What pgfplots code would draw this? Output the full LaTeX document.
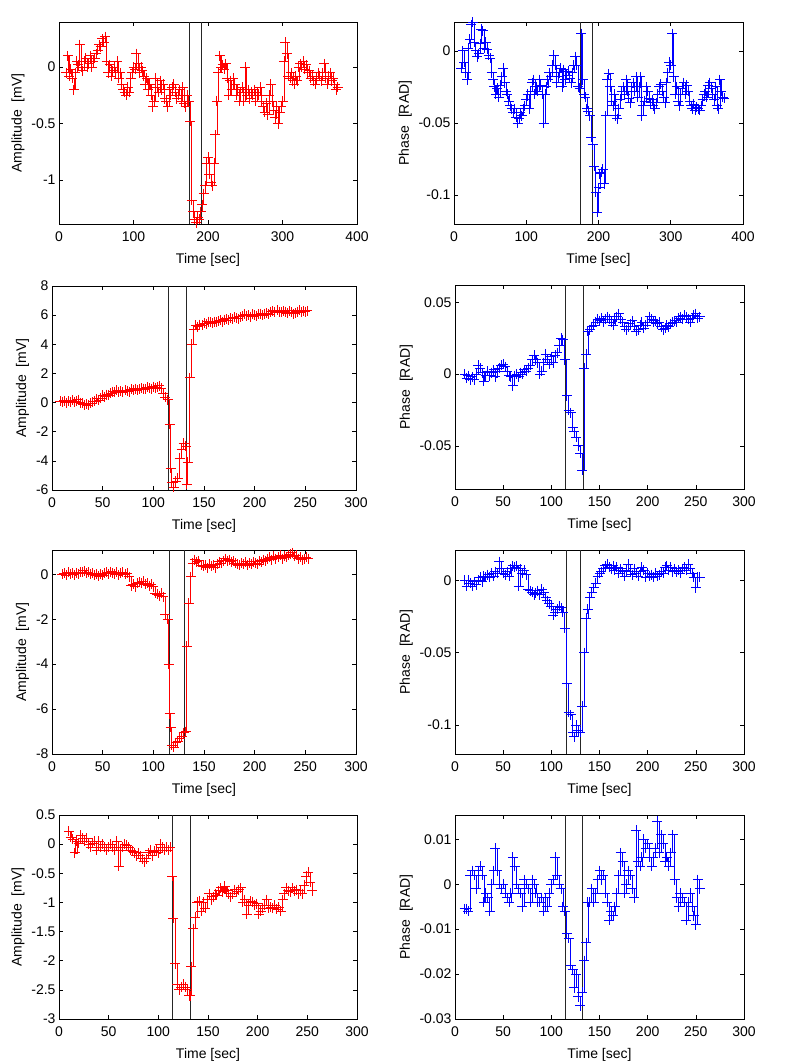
\documentclass[border=0pt]{standalone}
\usepackage{pgfplots}
\usepackage{pgfplotstable}
\pgfplotsset{compat=1.18}
\usepackage{fontspec}
\setmainfont{Liberation Sans}

\pgfplotstableread{
x y
10 -0.05
12 0.10
14 -0.08
16 -0.02
18 -0.10
20 -0.20
22 -0.05
24 0.05
26 0.02
28 0.20
30 0.00
32 -0.03
34 0.05
36 0.08
38 0.00
40 0.03
42 0.10
44 0.00
46 0.05
48 0.08
50 0.12
52 0.15
54 0.20
56 0.18
58 0.25
60 0.22
62 0.27
64 0.05
66 -0.05
68 0.02
70 -0.08
72 -0.03
74 0.00
76 -0.05
78 0.05
80 -0.10
82 -0.05
84 -0.15
86 -0.20
88 -0.22
90 -0.25
92 -0.18
94 -0.22
96 -0.10
98 -0.05
100 0.00
102 -0.02
104 0.12
106 0.03
108 -0.05
110 0.00
112 -0.03
114 -0.08
116 -0.15
118 -0.10
120 -0.20
122 -0.15
124 -0.25
126 -0.35
128 -0.30
130 -0.10
132 -0.18
134 -0.22
136 -0.12
138 -0.20
140 -0.15
142 -0.28
144 -0.30
146 -0.35
148 -0.20
150 -0.25
152 -0.18
154 -0.15
156 -0.22
158 -0.28
160 -0.25
162 -0.20
164 -0.30
166 -0.18
168 -0.32
170 -0.35
172 -0.25
174 -0.30
176 -0.48
178 -1.18
180 -1.28
182 -1.35
184 -1.38
186 -1.33
188 -1.35
190 -1.28
192 -1.22
194 -1.12
196 -1.05
198 -0.85
200 -0.80
202 -0.95
204 -1.02
206 -1.05
208 -0.85
210 -0.60
212 -0.30
214 -0.05
216 0.10
218 0.00
220 0.02
222 -0.02
224 0.03
226 -0.10
228 -0.25
230 -0.12
232 -0.20
234 -0.10
236 -0.15
238 -0.25
240 -0.20
242 -0.30
244 -0.22
246 -0.18
248 -0.30
250 0.00
252 -0.25
254 -0.20
256 -0.28
258 -0.22
260 -0.25
262 -0.20
264 -0.30
266 -0.22
268 -0.25
270 -0.18
272 -0.30
274 -0.35
276 -0.40
278 -0.32
280 -0.42
282 -0.25
284 -0.15
286 -0.30
288 -0.38
290 -0.45
292 -0.35
294 -0.50
296 -0.40
298 -0.35
300 -0.30
302 0.05
304 0.22
306 0.12
308 -0.08
310 -0.10
312 -0.05
314 -0.12
316 -0.15
318 -0.08
320 -0.12
322 0.00
324 0.03
326 0.00
328 0.05
330 -0.02
332 0.02
334 -0.05
336 -0.03
338 -0.10
340 -0.08
342 -0.12
344 -0.15
346 -0.10
348 -0.05
350 -0.08
352 -0.12
354 -0.05
356 0.03
358 -0.10
360 -0.15
362 -0.08
364 -0.05
366 -0.12
368 -0.10
370 -0.15
372 -0.20
374 -0.18
}\dataA

\pgfplotstableread{
x y
10 -0.012
12 0.000
14 -0.008
16 -0.015
18 -0.020
20 0.002
22 0.008
24 0.018
26 0.020
28 0.006
30 0.000
32 -0.004
34 -0.002
36 0.005
38 0.015
40 0.014
42 0.002
44 0.006
46 0.001
48 -0.003
50 -0.005
52 -0.015
54 -0.020
56 -0.025
58 -0.030
60 -0.026
62 -0.032
64 -0.024
66 -0.018
68 -0.012
70 -0.022
72 -0.028
74 -0.030
76 -0.035
78 -0.038
80 -0.040
82 -0.043
84 -0.040
86 -0.046
88 -0.050
90 -0.047
92 -0.043
94 -0.045
96 -0.040
98 -0.038
100 -0.034
102 -0.030
104 -0.040
106 -0.028
108 -0.022
110 -0.020
112 -0.030
114 -0.025
116 -0.028
118 -0.020
120 -0.024
122 -0.030
124 -0.050
126 -0.030
128 -0.025
130 -0.020
132 -0.015
134 -0.018
136 -0.010
138 -0.003
140 -0.010
142 -0.022
144 -0.018
146 -0.015
148 -0.012
150 -0.025
152 -0.013
154 -0.020
156 -0.017
158 -0.014
160 -0.019
162 -0.022
164 -0.015
166 -0.010
168 -0.004
170 -0.010
172 -0.025
174 -0.026
176 0.012
178 -0.020
180 -0.030
182 -0.032
184 -0.040
186 -0.042
188 -0.045
190 -0.060
192 -0.065
194 -0.080
196 -0.098
198 -0.112
200 -0.095
202 -0.085
204 -0.084
206 -0.082
208 -0.092
210 -0.045
212 -0.020
214 -0.016
216 -0.025
218 -0.035
220 -0.038
222 -0.030
224 -0.045
226 -0.047
228 -0.040
230 -0.034
232 -0.028
234 -0.025
236 -0.030
238 -0.020
240 -0.028
242 -0.033
244 -0.036
246 -0.025
248 -0.022
250 -0.028
252 -0.018
254 -0.032
256 -0.025
258 -0.018
260 -0.045
262 -0.038
264 -0.035
266 -0.025
268 -0.028
270 -0.033
272 -0.036
274 -0.034
276 -0.038
278 -0.040
280 -0.036
282 -0.030
284 -0.025
286 -0.023
288 -0.028
290 -0.032
292 -0.036
294 -0.022
296 -0.015
298 -0.008
300 -0.010
302 0.012
304 -0.018
306 -0.030
308 -0.025
310 -0.035
312 -0.038
314 -0.030
316 -0.026
318 -0.022
320 -0.030
322 -0.024
324 -0.028
326 -0.035
328 -0.038
330 -0.040
332 -0.037
334 -0.041
336 -0.039
338 -0.040
340 -0.041
342 -0.038
344 -0.034
346 -0.030
348 -0.028
350 -0.032
352 -0.024
354 -0.022
356 -0.026
358 -0.030
360 -0.034
362 -0.025
364 -0.038
366 -0.040
368 -0.020
370 -0.028
372 -0.032
374 -0.033
}\dataB

\pgfplotstableread{
x y
8 0.10
10 0.05
12 0.12
14 0.00
16 0.10
18 0.05
20 0.15
22 0.02
24 0.10
26 0.20
28 0.00
30 -0.05
32 -0.15
34 -0.10
36 -0.20
38 -0.05
40 0.05
42 0.10
44 0.25
46 0.15
48 0.30
50 0.50
52 0.40
54 0.55
56 0.50
58 0.65
60 0.75
62 0.70
64 0.85
66 0.75
68 0.80
70 0.70
72 0.85
74 0.80
76 0.75
78 0.90
80 0.85
82 0.95
84 0.85
86 0.90
88 1.00
90 0.95
92 0.90
94 1.05
96 1.00
98 0.95
100 1.10
102 1.00
104 1.05
106 1.15
108 1.00
110 0.60
112 0.35
114 0.20
116 -1.50
117 -4.50
118 -5.50
120 -5.80
122 -5.40
124 -5.20
126 -3.80
128 -3.20
130 -2.80
132 -3.00
133 -5.60
134 -4.10
136 1.70
138 4.00
140 5.00
142 5.30
144 5.20
146 5.35
148 5.30
150 5.45
152 5.40
154 5.55
156 5.50
158 5.45
160 5.55
162 5.50
164 5.60
166 5.65
168 5.55
170 5.70
172 5.75
174 5.65
176 5.80
178 5.75
180 5.85
182 5.80
184 5.75
186 5.90
188 5.95
190 6.05
192 5.95
194 6.00
196 5.90
198 6.05
200 6.00
202 5.95
204 6.05
206 6.10
208 6.00
210 6.10
212 6.15
214 6.05
216 6.25
218 6.30
220 6.20
222 6.35
224 6.25
226 6.20
228 6.30
230 6.25
232 6.15
234 6.30
236 6.20
238 6.10
240 6.15
242 6.25
244 6.35
246 6.20
248 6.30
250 6.25
252 6.30
}\dataC

\pgfplotstableread{
x y
10 0.000
12 -0.003
14 -0.001
16 -0.004
18 -0.002
20 -0.004
22 0.000
24 0.006
26 0.004
28 0.001
30 -0.005
32 -0.001
34 0.002
36 -0.001
38 0.001
40 0.003
42 -0.002
44 0.002
46 0.004
48 0.006
50 0.007
52 0.005
54 0.002
56 -0.001
58 -0.002
60 -0.008
62 -0.001
64 0.000
66 -0.002
68 0.001
70 0.000
72 0.003
74 0.002
76 0.004
78 0.006
80 0.010
82 0.013
84 0.010
86 0.008
88 0.000
90 0.002
92 0.008
94 0.014
96 0.010
98 0.007
100 0.012
102 0.008
104 0.013
106 0.015
108 0.020
110 0.025
112 0.024
114 0.010
116 -0.015
118 -0.025
120 -0.027
122 -0.037
124 -0.040
126 -0.044
128 -0.050
130 -0.055
132 -0.067
134 0.004
136 0.014
138 0.030
140 0.031
142 0.033
144 0.034
146 0.036
148 0.038
150 0.037
152 0.039
154 0.036
156 0.038
158 0.040
160 0.038
162 0.036
164 0.034
166 0.038
168 0.040
170 0.042
172 0.038
174 0.036
176 0.033
178 0.031
180 0.033
182 0.035
184 0.037
186 0.033
188 0.030
190 0.031
192 0.034
194 0.036
196 0.032
198 0.034
200 0.036
202 0.040
204 0.038
206 0.036
208 0.037
210 0.035
212 0.036
214 0.033
216 0.031
218 0.032
220 0.034
222 0.033
224 0.035
226 0.036
228 0.037
230 0.036
232 0.039
234 0.040
236 0.038
238 0.041
240 0.040
242 0.038
244 0.036
246 0.039
248 0.041
250 0.042
252 0.039
254 0.040
}\dataD

\pgfplotstableread{
x y
10 0.00
12 0.05
14 -0.05
16 0.08
18 0.02
20 0.05
22 -0.03
24 0.06
26 0.02
28 0.08
30 0.10
32 0.15
34 0.05
36 0.08
38 0.00
40 0.05
42 -0.05
44 0.02
46 -0.08
48 0.00
50 -0.05
52 0.05
54 0.10
56 0.02
58 0.12
60 0.05
62 0.00
64 0.08
66 -0.03
68 0.05
70 0.10
72 0.00
74 0.05
76 -0.10
78 -0.50
80 -0.45
82 -0.55
84 -0.40
86 -0.35
88 -0.40
90 -0.30
92 -0.45
94 -0.40
96 -0.50
98 -0.45
100 -0.55
102 -0.85
104 -0.90
106 -0.95
108 -0.85
110 -1.00
112 -1.80
114 -2.00
115 -4.00
116 -6.20
117 -6.80
118 -7.60
120 -7.70
122 -7.50
124 -7.45
126 -7.30
128 -7.20
130 -7.05
132 -7.00
133 -3.20
135 -1.30
137 -0.10
139 0.50
141 0.65
143 0.55
145 0.60
147 0.40
149 0.35
151 0.40
153 0.30
155 0.45
157 0.35
159 0.40
161 0.30
163 0.45
165 0.55
167 0.50
169 0.60
171 0.70
173 0.60
175 0.65
177 0.55
179 0.60
181 0.50
183 0.45
185 0.40
187 0.50
189 0.45
191 0.55
193 0.40
195 0.50
197 0.45
199 0.55
201 0.50
203 0.45
205 0.60
207 0.55
209 0.65
211 0.60
213 0.70
215 0.75
217 0.65
219 0.80
221 0.70
223 0.75
225 0.85
227 0.70
229 0.80
231 0.75
233 0.85
235 0.90
237 0.95
239 0.80
241 0.85
243 0.70
245 0.75
247 0.65
249 0.70
251 0.75
253 0.70
}\dataE

\pgfplotstableread{
x y
10 0.000
12 -0.004
14 0.000
16 -0.002
18 -0.004
20 -0.001
22 -0.003
24 0.000
26 0.002
28 -0.001
30 0.003
32 0.002
34 0.004
36 0.002
38 0.005
40 0.003
42 0.006
44 0.005
46 0.013
48 0.008
50 0.005
52 0.004
54 0.006
56 0.003
58 0.008
60 0.010
62 0.009
64 0.010
66 -0.004
68 0.008
70 0.005
72 0.007
74 0.004
76 -0.006
78 -0.007
80 -0.008
82 -0.010
84 -0.009
86 -0.007
88 -0.010
90 -0.006
92 -0.008
94 -0.012
96 -0.014
98 -0.016
100 -0.018
102 -0.024
104 -0.022
106 -0.020
108 -0.018
110 -0.019
112 -0.022
114 -0.033
116 -0.071
118 -0.091
120 -0.093
122 -0.105
124 -0.108
126 -0.100
128 -0.104
130 -0.105
132 -0.087
134 -0.050
136 -0.026
138 -0.020
140 -0.012
142 -0.008
144 -0.005
146 -0.002
148 0.003
150 0.005
152 0.006
154 0.008
156 0.010
158 0.011
160 0.009
162 0.008
164 0.010
166 0.007
168 0.009
170 0.005
172 0.008
174 0.006
176 0.003
178 0.007
180 0.011
182 0.006
184 0.004
186 0.008
188 0.005
190 0.003
192 0.006
194 0.009
196 0.007
198 0.002
200 0.005
202 0.003
204 0.004
206 0.002
208 0.005
210 0.003
212 0.004
214 0.006
216 0.005
218 0.009
220 0.010
222 0.007
224 0.009
226 0.006
228 0.008
230 0.006
232 0.007
234 0.005
236 0.008
238 0.009
240 0.007
242 0.011
244 0.008
246 0.005
248 0.002
250 -0.005
252 0.002
254 0.002
}\dataF

\pgfplotstableread{
x y
10 0.22
12 0.12
14 0.08
16 -0.15
18 0.05
20 0.02
22 0.15
24 0.10
26 0.05
28 0.10
30 0.00
32 -0.05
34 0.02
36 0.05
38 -0.10
40 0.05
42 -0.05
44 0.00
46 -0.05
48 -0.10
50 -0.05
52 0.00
54 -0.05
56 -0.10
58 0.05
60 -0.38
62 -0.10
64 -0.05
66 0.00
68 -0.02
70 -0.05
72 -0.10
74 -0.12
76 -0.15
78 -0.20
80 -0.15
82 -0.20
84 -0.25
86 -0.30
88 -0.25
90 -0.15
92 -0.10
94 -0.20
96 -0.12
98 -0.10
100 -0.15
102 0.00
104 -0.05
106 -0.10
108 -0.05
110 -0.10
112 -0.05
114 -0.55
115 -1.27
117 -2.05
119 -2.40
121 -2.50
123 -2.45
125 -2.40
127 -2.45
129 -2.50
131 -2.60
132 -2.60
133 -2.10
135 -1.45
137 -1.25
139 -1.00
141 -0.98
143 -1.15
145 -1.00
147 -1.10
149 -0.95
151 -0.85
153 -0.95
155 -0.90
157 -0.85
159 -0.88
161 -0.80
163 -0.75
165 -0.82
167 -0.72
169 -0.80
171 -0.85
173 -0.90
175 -0.85
177 -0.78
179 -0.82
181 -0.78
183 -0.75
185 -1.00
187 -0.95
189 -1.20
191 -1.05
193 -0.98
195 -1.00
197 -1.05
199 -1.02
201 -1.20
203 -1.15
205 -1.10
207 -1.05
209 -0.95
211 -1.10
213 -1.08
215 -1.10
217 -1.05
219 -1.12
221 -1.08
223 -1.15
225 -0.95
227 -0.85
229 -0.75
231 -0.80
233 -0.82
235 -0.75
237 -0.80
239 -0.78
241 -0.85
243 -0.80
245 -0.85
247 -0.70
249 -0.55
251 -0.48
253 -0.65
255 -0.80
}\dataG

\pgfplotstableread{
x y
10 -0.0055
12 -0.0055
14 -0.0060
16 0.0020
18 0.0030
20 0.0020
22 -0.0010
24 0.0030
26 0.0040
28 0.0020
30 -0.0040
32 -0.0020
34 -0.0030
36 -0.0060
38 0.0000
40 0.0030
42 0.0080
44 0.0030
46 0.0000
48 -0.0010
50 0.0000
52 -0.0020
54 -0.0030
56 -0.0040
58 -0.0020
60 0.0060
62 0.0040
64 0.0000
66 -0.0010
68 -0.0020
70 -0.0050
72 0.0010
74 0.0000
76 -0.0010
78 -0.0040
80 0.0010
82 0.0000
84 -0.0020
86 -0.0040
88 -0.0040
90 -0.0030
92 -0.0060
94 -0.0030
96 -0.0050
98 -0.0020
100 0.0000
102 0.0010
104 0.0060
106 0.0020
108 0.0000
110 -0.0010
112 -0.0050
114 -0.0060
116 -0.0110
118 -0.0120
120 -0.0180
122 -0.0190
124 -0.0230
126 -0.0200
128 -0.0250
130 -0.0270
132 -0.0240
134 -0.0170
136 -0.0130
138 -0.0040
140 -0.0040
142 -0.0010
144 -0.0040
146 -0.0020
148 0.0010
150 0.0030
152 0.0010
154 0.0020
156 -0.0020
158 -0.0040
160 -0.0080
162 -0.0060
164 -0.0070
166 -0.0050
168 -0.0020
170 0.0020
172 0.0070
174 0.0050
176 -0.0020
178 0.0000
180 0.0030
182 0.0020
184 -0.0010
186 -0.0030
188 0.0120
190 0.0050
192 0.0040
194 0.0060
196 0.0100
198 0.0080
200 0.0090
202 0.0060
204 0.0040
206 0.0060
208 0.0080
210 0.0140
212 0.0070
214 0.0110
216 0.0090
218 0.0050
220 0.0060
222 0.0040
224 0.0070
226 0.0110
228 0.0010
230 -0.0030
232 -0.0050
234 -0.0020
236 -0.0030
238 -0.0040
240 -0.0080
242 -0.0040
244 -0.0020
246 -0.0050
248 -0.0070
250 -0.0090
252 0.0010
254 -0.0010
}\dataH

\pgfplotsset{
  panel/.style={
    scale only axis, anchor=north west,
    font=\fontsize{14}{16}\selectfont,
    tick align=inside, major tick length=4pt,
    axis line style={line width=0.8pt},
    every tick/.style={draw=black, line width=0.6pt},
    /pgf/number format/assume math mode=true,
    scaled y ticks=false, scaled x ticks=false,
    yticklabel style={/pgf/number format/fixed, /pgf/number format/precision=3},
    xticklabel style={yshift=-4pt},
    xlabel={Time [sec]},
    xlabel style={yshift=-5pt},
    clip=true,
  },
  redline/.style={draw=red, line width=0.75pt, const plot, mark=+, mark size=5pt,
    mark options={draw=red, line width=0.9pt}},
  blueline/.style={draw=blue, line width=0.75pt, const plot, mark=+, mark size=5pt,
    mark options={draw=blue, line width=0.9pt}},
  vline/.style={draw=black!85, line width=0.9pt, no marks},
}

\begin{document}
\begin{tikzpicture}
\path[use as bounding box] (0pt,0pt) rectangle (787pt,-1063pt);

% Row 1 left
\begin{axis}[panel, at={(59pt,-22pt)}, width=298pt, height=202pt,
  xmin=0, xmax=400, ymin=-1.39, ymax=0.4,
  xtick={0,100,200,300,400}, ytick={-1,-0.5,0},
  ylabel={Amplitude\ \ [mV]}]
\addplot[vline] coordinates {(175,-1.39) (175,0.4)};
\addplot[vline] coordinates {(191,-1.39) (191,0.4)};
\addplot[redline] table {\dataA};
\end{axis}

% Row 1 right
\begin{axis}[panel, at={(454pt,-22pt)}, width=289pt, height=202pt,
  xmin=0, xmax=400, ymin=-0.12, ymax=0.02,
  xtick={0,100,200,300,400}, ytick={-0.1,-0.05,0},
  ylabel={Phase\ \ [RAD]}]
\addplot[vline] coordinates {(175.5,-0.12) (175.5,0.02)};
\addplot[vline] coordinates {(192,-0.12) (192,0.02)};
\addplot[blueline] table {\dataB};
\end{axis}

% Row 2 left
\begin{axis}[panel, at={(52pt,-286pt)}, width=304pt, height=204pt,
  xmin=0, xmax=300, ymin=-6, ymax=8,
  xtick={0,50,...,300}, ytick={-6,-4,...,8},
  ylabel={Amplitude\ \ [mV]}]
\addplot[vline] coordinates {(115,-6) (115,8)};
\addplot[vline] coordinates {(132.5,-6) (132.5,8)};
\addplot[redline] table {\dataC};
\end{axis}

% Row 2 right
\begin{axis}[panel, at={(455pt,-285pt)}, width=289pt, height=204pt,
  xmin=0, xmax=300, ymin=-0.08, ymax=0.062,
  xtick={0,50,...,300}, ytick={-0.05,0,0.05},
  ylabel={Phase\ \ [RAD]}]
\addplot[vline] coordinates {(115,-0.08) (115,0.062)};
\addplot[vline] coordinates {(133,-0.08) (133,0.062)};
\addplot[blueline] table {\dataD};
\end{axis}

% Row 3 left
\begin{axis}[panel, at={(52pt,-550pt)}, width=304pt, height=204pt,
  xmin=0, xmax=300, ymin=-8, ymax=1.08,
  xtick={0,50,...,300}, ytick={-8,-6,...,0},
  ylabel={Amplitude\ \ [mV]}]
\addplot[vline] coordinates {(116,-8) (116,1.08)};
\addplot[vline] coordinates {(131,-8) (131,1.08)};
\addplot[redline] table {\dataE};
\end{axis}

% Row 3 right
\begin{axis}[panel, at={(455pt,-550pt)}, width=289pt, height=204pt,
  xmin=0, xmax=300, ymin=-0.12, ymax=0.021,
  xtick={0,50,...,300}, ytick={-0.1,-0.05,0},
  ylabel={Phase\ \ [RAD]}]
\addplot[vline] coordinates {(116,-0.12) (116,0.021)};
\addplot[vline] coordinates {(130.5,-0.12) (130.5,0.021)};
\addplot[blueline] table {\dataF};
\end{axis}

% Row 4 left
\begin{axis}[panel, at={(59pt,-815pt)}, width=298pt, height=204pt,
  xmin=0, xmax=300, ymin=-3, ymax=0.5,
  xtick={0,50,...,300}, ytick={-3,-2.5,...,0.5},
  ylabel={Amplitude\ \ [mV]}]
\addplot[vline] coordinates {(114.6,-3) (114.6,0.5)};
\addplot[vline] coordinates {(132.3,-3) (132.3,0.5)};
\addplot[redline] table {\dataG};
\end{axis}

% Row 4 right
\begin{axis}[panel, at={(455pt,-815pt)}, width=289pt, height=204pt,
  xmin=0, xmax=300, ymin=-0.03, ymax=0.0154,
  xtick={0,50,...,300}, ytick={-0.03,-0.02,-0.01,0,0.01},
  ylabel={Phase\ \ [RAD]}]
\addplot[vline] coordinates {(115,-0.03) (115,0.0154)};
\addplot[vline] coordinates {(132,-0.03) (132,0.0154)};
\addplot[blueline] table {\dataH};
\end{axis}
\end{tikzpicture}
\end{document}
